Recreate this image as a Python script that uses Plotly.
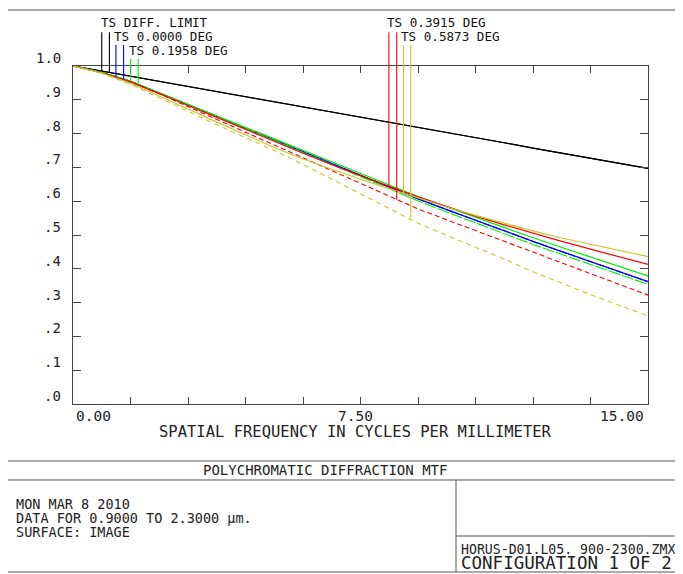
import numpy as np
import plotly.graph_objects as go

# ---------------- data ----------------
freq = [0, 0.75, 1.5, 2.25, 3, 3.75, 4.5, 5.25, 6, 6.75, 7.5, 8.25, 9,
        9.75, 10.5, 11.25, 12, 12.75, 13.5, 14.25, 15]

diff_limit = [1.000, 0.985, 0.970, 0.955, 0.939, 0.924, 0.909, 0.894, 0.879, 0.864,
              0.849, 0.834, 0.818, 0.803, 0.788, 0.773, 0.757, 0.742, 0.727, 0.712, 0.697]

f0_t = [1.000, 0.981, 0.955, 0.921, 0.886, 0.851, 0.816, 0.781, 0.746, 0.711,
        0.676, 0.641, 0.607, 0.575, 0.543, 0.512, 0.481, 0.451, 0.421, 0.391, 0.362]
f0_s = [1.000, 0.981, 0.955, 0.921, 0.886, 0.851, 0.816, 0.781, 0.746, 0.711,
        0.676, 0.641, 0.607, 0.575, 0.543, 0.512, 0.481, 0.451, 0.421, 0.391, 0.362]

f1_t = [1.000, 0.981, 0.955, 0.921, 0.886, 0.852, 0.818, 0.784, 0.750, 0.716,
        0.682, 0.647, 0.614, 0.583, 0.552, 0.522, 0.492, 0.463, 0.435, 0.406, 0.379]
f1_s = [1.000, 0.981, 0.955, 0.921, 0.886, 0.851, 0.816, 0.780, 0.744, 0.708,
        0.672, 0.636, 0.601, 0.568, 0.535, 0.504, 0.472, 0.442, 0.412, 0.382, 0.354]

f2_t = [1.000, 0.980, 0.953, 0.919, 0.883, 0.848, 0.812, 0.777, 0.742, 0.708,
        0.675, 0.644, 0.613, 0.584, 0.556, 0.530, 0.505, 0.481, 0.458, 0.435, 0.413]
f2_s = [1.000, 0.980, 0.952, 0.918, 0.880, 0.842, 0.803, 0.766, 0.728, 0.690,
        0.652, 0.614, 0.577, 0.545, 0.513, 0.481, 0.449, 0.418, 0.386, 0.354, 0.322]

f3_t = [1.000, 0.979, 0.949, 0.912, 0.873, 0.834, 0.796, 0.759, 0.725, 0.694,
        0.665, 0.637, 0.609, 0.583, 0.558, 0.534, 0.512, 0.491, 0.472, 0.454, 0.436]
f3_s = [1.000, 0.979, 0.946, 0.906, 0.865, 0.826, 0.788, 0.750, 0.709, 0.666,
        0.622, 0.578, 0.535, 0.499, 0.464, 0.429, 0.391, 0.357, 0.324, 0.292, 0.261]

field_labels = ["TS DIFF. LIMIT", "TS 0.0000 DEG", "TS 0.1958 DEG",
                "TS 0.3915 DEG", "TS 0.5873 DEG"]
pointer_freqs = [[0.75, 0.95], [1.12, 1.32], [1.505, 1.70], [8.24, 8.445], [8.62, 8.81]]
pointer_tops = [1.100, 1.062, 1.021, 1.100, 1.062]

x_tick_vals = [0, 1.5, 3, 4.5, 6, 7.5, 9, 10.5, 12, 13.5, 15]
x_label_vals = [0, 7.5, 15]
x_label_text = ["0.00", "7.50", "15.00"]
y_tick_vals = [1.0, 0.9, 0.8, 0.7, 0.6, 0.5, 0.4, 0.3, 0.2, 0.1, 0.0]
y_tick_text = ["1.0", ".9", ".8", ".7", ".6", ".5", ".4", ".3", ".2", ".1", ".0"]

x_title = "SPATIAL FREQUENCY IN CYCLES PER MILLIMETER"
plot_title = "POLYCHROMATIC DIFFRACTION MTF"
info_lines = ["MON MAR 8 2010", "DATA FOR 0.9000 TO 2.3000 \u03bcm.", "SURFACE: IMAGE"]
file_name = "HORUS-D01.L05. 900-2300.ZMX"
config_text = "CONFIGURATION 1 OF 2"

# ---------------- styling / layout ----------------
OFF = 8                      # default page body margin
W, H = 683 - OFF, 574 - OFF
ML, MR, MT, MB = 73 - OFF, 35, 17, 170
PW, PH = W - ML - MR, H - MT - MB
Y_PX_PER_UNIT = 338.0
dom_top = Y_PX_PER_UNIT / PH
FONT = "DejaVu Sans Mono"
AX = "#444444"

BLACK = "#000000"
BLUE = "#0000ff"
GREEN = "#00ee00"
RED = "#ff0000"
YEL = "#c8c832"


def px(xp):
    """screen pixel x -> paper x"""
    return (xp - OFF - ML) / PW


def py(yp):
    """screen pixel y -> paper y"""
    return (H - MB - (yp - OFF)) / PH


series = [
    (diff_limit, diff_limit, BLACK, "solid", "solid"),
    (f0_t, f0_s, BLUE, "solid", "8px,2px"),
    (f1_t, f1_s, GREEN, "solid", "12px,2px"),
    (f2_t, f2_s, RED, "solid", "5px,3px"),
    (f3_t, f3_s, YEL, "solid", "5px,4px"),
]

fig = go.Figure()

for t_vals, s_vals, col, dt, ds in series:
    fig.add_trace(go.Scatter(x=freq, y=s_vals, mode="lines",
                             line=dict(color=col, width=1.1, dash=ds),
                             hoverinfo="skip", showlegend=False))
    fig.add_trace(go.Scatter(x=freq, y=t_vals, mode="lines",
                             line=dict(color=col, width=1.2, dash=dt),
                             hoverinfo="skip", showlegend=False))

# pointer lines (on a taller helper axis so they can rise above 1.0)
for (t_vals, s_vals, col, _, _), pf, top in zip(series, pointer_freqs, pointer_tops):
    for fx, vals in zip(pf, [t_vals, s_vals]):
        yb = float(np.interp(fx, freq, vals))
        fig.add_trace(go.Scatter(x=[fx, fx], y=[yb, top], mode="lines",
                                 line=dict(color=col, width=1.1),
                                 yaxis="y2", hoverinfo="skip", showlegend=False))

fig.update_layout(
    width=W, height=H, autosize=False,
    margin=dict(l=ML, r=MR, t=MT, b=MB, pad=0),
    paper_bgcolor="white", plot_bgcolor="rgba(0,0,0,0)",
    showlegend=False,
    xaxis=dict(range=[0, 15], showgrid=False, zeroline=False,
               showline=True, linecolor=AX, linewidth=1, mirror="ticks",
               ticks="inside", tickvals=x_tick_vals, ticklen=7, tickcolor=AX,
               showticklabels=False, fixedrange=True),
    yaxis=dict(range=[0, 1.0], domain=[0, dom_top], showgrid=False, zeroline=False,
               showline=True, linecolor=AX, linewidth=1, mirror="ticks",
               ticks="inside", tickvals=y_tick_vals, ticklen=8, tickcolor=AX,
               showticklabels=False, fixedrange=True),
    yaxis2=dict(range=[0, PH / Y_PX_PER_UNIT], domain=[0, 1], anchor="x",
                visible=False, fixedrange=True),
)

ann = []
# y tick labels
for v, t in zip(y_tick_vals, y_tick_text):
    ann.append(dict(x=px(63), y=v, xref="paper", yref="y", text=t, showarrow=False,
                    xanchor="right", yanchor="middle", yshift=8,
                    font=dict(family=FONT, size=14, color="#222")))
# x tick labels
anchors = ["left", "center", "right"]
shifts = [1, -5, -2]
for v, t, a, s in zip(x_label_vals, x_label_text, anchors, shifts):
    ann.append(dict(x=v, y=0, xref="x", yref="y", text=t, showarrow=False,
                    xanchor=a, yanchor="middle", yshift=-12, xshift=s,
                    font=dict(family=FONT, size=14.5, color="#222")))
# axis title
ann.append(dict(x=px(355), y=py(432), xref="paper", yref="paper", text=x_title,
                showarrow=False, xanchor="center", yanchor="middle",
                font=dict(family=FONT, size=15.5, color="#222")))
# field labels
label_pos = [(99, 22), (112, 36.5), (127, 50), (385, 22), (399, 36.5)]
for t, (lx, ly) in zip(field_labels, label_pos):
    ann.append(dict(x=px(lx), y=py(ly), xref="paper", yref="paper", text=t,
                    showarrow=False, xanchor="left", yanchor="middle",
                    font=dict(family=FONT, size=12.6, color="#111")))
# title
ann.append(dict(x=px(325), y=py(470), xref="paper", yref="paper", text=plot_title,
                showarrow=False, xanchor="center", yanchor="middle",
                font=dict(family=FONT, size=14, color="#222")))
# info block
for t, ly in zip(info_lines, [503.5, 517.5, 532]):
    ann.append(dict(x=px(14), y=py(ly), xref="paper", yref="paper", text=t,
                    showarrow=False, xanchor="left", yanchor="middle",
                    font=dict(family=FONT, size=13.5, color="#222")))
ann.append(dict(x=px(459), y=py(549), xref="paper", yref="paper", text=file_name,
                showarrow=False, xanchor="left", yanchor="middle",
                font=dict(family=FONT, size=13.2, color="#222")))
ann.append(dict(x=px(459), y=py(563), xref="paper", yref="paper", text=config_text,
                showarrow=False, xanchor="left", yanchor="middle",
                font=dict(family=FONT, size=17.5, color="#222")))
fig.update_layout(annotations=ann)

# frame lines
FR = "#555555"
lines = [
    (5, 10, 677, 10), (5, 10, 5, 572), (5, 572, 683, 572),
    (5, 461, 683, 461), (5, 480, 683, 480),
    (456, 480, 456, 572), (456, 536, 683, 536),
]
shapes = [dict(type="rect", xref="paper", yref="paper", x0=px(8), x1=px(14),
               y0=py(440), y1=py(232), fillcolor="rgba(255,170,170,0.0)",
               line=dict(width=0), layer="below")]
for x0, y0, x1, y1 in lines:
    shapes.append(dict(type="line", xref="paper", yref="paper",
                       x0=px(x0), y0=py(y0), x1=px(x1), y1=py(y1),
                       line=dict(color=FR, width=1)))
fig.update_layout(shapes=shapes)

fig.write_html("out.html")
